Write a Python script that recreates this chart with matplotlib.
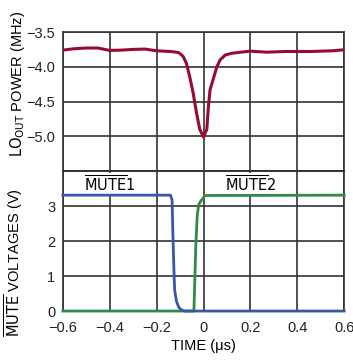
import matplotlib
matplotlib.use('Agg')
from matplotlib import pyplot as plt

plt.rcParams['font.family'] = ['Liberation Sans Narrow', 'Liberation Sans', 'DejaVu Sans']
plt.rcParams['mathtext.fontset'] = 'custom'
plt.rcParams['mathtext.rm'] = 'Liberation Sans Narrow'
plt.rcParams['mathtext.it'] = 'Liberation Sans Narrow'
plt.rcParams['font.size'] = 10.5

# LO output power trace
power_t = [-0.6, -0.55, -0.5, -0.45, -0.4, -0.35, -0.3, -0.25, -0.2, -0.141, -0.106,
           -0.087, -0.073, -0.059, -0.044, -0.030, -0.016, 0.0, 0.014, 0.021, 0.028,
           0.043, 0.057, 0.071, 0.093, 0.122, 0.158, 0.2, 0.27, 0.35, 0.457, 0.55, 0.6]
power_v = [-3.76, -3.74, -3.73, -3.73, -3.765, -3.76, -3.75, -3.745, -3.77, -3.78, -3.795,
           -3.85, -3.95, -4.14, -4.38, -4.66, -4.90, -5.01, -4.90, -4.57, -4.33,
           -4.16, -4.0, -3.90, -3.83, -3.805, -3.79, -3.775, -3.79, -3.78, -3.78, -3.77, -3.755]

# MUTE1 (falling)
mute1_t = [-0.6, -0.141, -0.134, -0.131, -0.127, -0.123, -0.115, -0.105, -0.091, -0.08, 0.6]
mute1_v = [3.31, 3.31, 3.17, 2.31, 1.36, 0.6, 0.27, 0.1, 0.02, 0.0, 0.0]

# MUTE2 (rising)
mute2_t = [-0.6, -0.041, -0.037, -0.033, -0.027, -0.021, -0.011, 0.007, 0.6]
mute2_v = [0.0, 0.0, 0.89, 1.84, 2.7, 3.03, 3.15, 3.30, 3.31]

power_ticks = [-3.5, -4.0, -4.5, -5.0]
volt_ticks = [0, 1, 2, 3]
time_ticks = [-0.6, -0.4, -0.2, 0, 0.2, 0.4, 0.6]

grid_c = '#333333'
red = '#960c30'
blue = '#3a56a8'
green = '#2e8a45'

fig = plt.figure(figsize=(3.53, 3.6), dpi=100)
ax1 = fig.add_axes([0.178, 0.525, 0.797, 0.386])
ax2 = fig.add_axes([0.178, 0.136, 0.797, 0.389])

ax1.set_ylim(-5.5, -3.5)
ax1.set_yticks([-3.5, -4.0, -4.5, -5.0, -5.5])
ax1.set_yticklabels(['\u2212%.1f' % abs(v) for v in power_ticks] + [''])
ax1.set_xlim(-0.6, 0.6)
ax1.set_xticks(time_ticks)
ax1.set_xticklabels([])
ax1.plot(power_t, power_v, color=red, linewidth=2.2, solid_capstyle='round', zorder=3)

ax2.set_ylim(0, 4)
ax2.set_yticks([0, 1, 2, 3, 4])
ax2.set_yticklabels([str(v) for v in volt_ticks] + [''])
ax2.set_xlim(-0.6, 0.6)
ax2.set_xticks(time_ticks)
ax2.set_xticklabels(['\u22120.6', '\u22120.4', '\u22120.2', '0', '0.2', '0.4', '0.6'])
ax2.plot(mute2_t, mute2_v, color=green, linewidth=2.0, clip_on=False, zorder=3)
ax2.plot(mute1_t, mute1_v, color=blue, linewidth=2.0, clip_on=False, zorder=3)

for ax in (ax1, ax2):
    ax.tick_params(length=0, pad=5.5, labelsize=10.5, colors='#222222')
    for s in ax.spines.values():
        s.set_color(grid_c)
        s.set_linewidth(1.2)
    ax.set_axisbelow(True)
    ax.grid(True, which='major', axis='both', color=grid_c, linewidth=1.2)
ax2.tick_params(axis='x', pad=7)

label_box = dict(facecolor='white', edgecolor='none', pad=1.0)
ax2.text(-0.40, 3.62, r'$\overline{\mathrm{MUTE}}\mathrm{1}$', ha='center', va='center',
         fontsize=10.5, bbox=label_box, zorder=2.5)
ax2.text(0.20, 3.62, r'$\overline{\mathrm{MUTE}}\mathrm{2}$', ha='center', va='center',
         fontsize=10.5, bbox=label_box, zorder=2.5)

fig.text(0.05, 0.768, r'$\mathrm{LO_{OUT}}$ POWER (MHz)', rotation=90, ha='center', va='center', fontsize=10.5)
fig.text(0.04, 0.27, r'$\overline{\mathrm{MUTE}}$ VOLTAGES (V)', rotation=90, ha='center', va='center', fontsize=10.5)
fig.text(0.577, 0.04, 'TIME (\u03bcs)', ha='center', va='center', fontsize=10.5)

fig.savefig('out.png', dpi=100)
